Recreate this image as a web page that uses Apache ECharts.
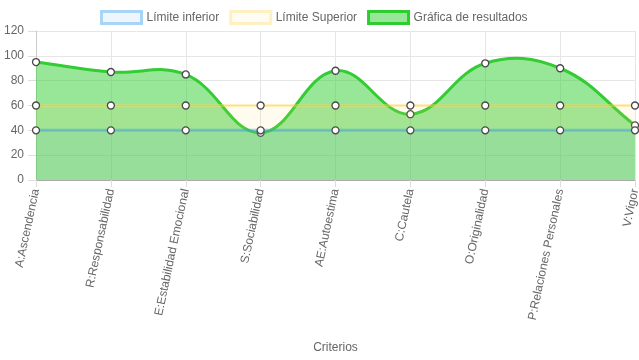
<!DOCTYPE html>
<html>
<head>
<meta charset="utf-8">
<script src="https://cdn.jsdelivr.net/npm/echarts@6/dist/echarts.min.js"></script>
<style>
html,body{margin:0;padding:0;background:#fff;}
#chart{width:639px;height:360px;}
</style>
</head>
<body>
<div id="chart"></div>
<script>
const categories = ['A:Ascendencia','R:Responsabilidad','E:Estabilidad Emocional','S:Sociabilidad','AE:Autoestima','C:Cautela','O:Originalidad','P:Relaciones Personales','V:Vigor'];
const limiteInferior = [40,40,40,40,40,40,40,40,40];
const limiteSuperior = [60,60,60,60,60,60,60,60,60];
const resultados = [95,87,85,38,88,53,94,90,44];
const seriesNames = ['Límite inferior','Límite Superior','Gráfica de resultados'];
const yTicks = {min:0, max:120, interval:20};

const font = 'Liberation Sans, Arial, Helvetica, sans-serif';
const chart = echarts.init(document.getElementById('chart'), null, {renderer:'canvas'});
const pointStyle = {color:'#ffffff', borderColor:'#4a4a4a', borderWidth:1.3};

// Cardinal spline (tension 0.4) through the data points, positioned via the axis scales
function splinePath(api, values, tension) {
  const pts = values.map((v, i) => api.coord([i, v]));
  const n = pts.length;
  const cps = pts.map((p, i) => {
    const prev = pts[i - 1] || p, next = pts[i + 1] || p;
    const d01 = Math.hypot(p[0] - prev[0], p[1] - prev[1]);
    const d12 = Math.hypot(next[0] - p[0], next[1] - p[1]);
    let s01 = d01 / (d01 + d12), s12 = d12 / (d01 + d12);
    if (!isFinite(s01)) s01 = 0; if (!isFinite(s12)) s12 = 0;
    const fa = tension * s01, fb = tension * s12;
    return {
      prev: [p[0] - fa * (next[0] - prev[0]), p[1] - fa * (next[1] - prev[1])],
      next: [p[0] + fb * (next[0] - prev[0]), p[1] + fb * (next[1] - prev[1])]
    };
  });
  let d = 'M' + pts[0][0] + ' ' + pts[0][1];
  for (let i = 0; i < n - 1; i++) {
    const c1 = cps[i].next, c2 = cps[i + 1].prev, p = pts[i + 1];
    d += ' C' + c1[0] + ' ' + c1[1] + ' ' + c2[0] + ' ' + c2[1] + ' ' + p[0] + ' ' + p[1];
  }
  return {d, pts};
}

chart.setOption({
  animation:false,
  textStyle:{fontFamily:font},
  legend:{
    top:10, left:100, padding:0, itemWidth:40, itemHeight:12, itemGap:10,
    icon:'rect',
    textStyle:{color:'#666', fontSize:12, fontFamily:font},
    data:[
      {name:seriesNames[0], itemStyle:{color:'#eef6fd', borderColor:'#a8d4f5', borderWidth:3}},
      {name:seriesNames[1], itemStyle:{color:'#fffcf3', borderColor:'#fff0c2', borderWidth:3}},
      {name:seriesNames[2], itemStyle:{color:'#98e698', borderColor:'#2ecc2e', borderWidth:3}}
    ]
  },
  grid:{left:36, right:4, top:31, bottom:180, containLabel:false, outerBoundsMode:'none'},
  xAxis:{
    type:'category', data:categories, boundaryGap:false,
    name:'Criterios', nameLocation:'middle', nameGap:162,
    nameTextStyle:{color:'#666', fontSize:12, fontFamily:font},
    axisLine:{show:true, lineStyle:{color:'#aaaaaa', width:1}},
    axisTick:{show:true, length:7, lineStyle:{color:'#dddddd'}},
    axisLabel:{rotate:78, color:'#666', fontSize:12, margin:9, fontFamily:font},
    splitLine:{show:true, lineStyle:{color:'#e6e6e6'}}
  },
  yAxis:{
    type:'value', min:yTicks.min, max:yTicks.max, interval:yTicks.interval,
    axisLine:{show:true, lineStyle:{color:'#cccccc'}},
    axisTick:{show:true, length:8, lineStyle:{color:'#dddddd'}},
    axisLabel:{color:'#666', fontSize:12, margin:12, fontFamily:font},
    splitLine:{show:true, lineStyle:{color:'#e6e6e6'}}
  },
  series:[
    {
      name:seriesNames[0], type:'line', data:limiteInferior, z:4,
      symbol:'circle', symbolSize:7, showSymbol:true,
      lineStyle:{color:'rgba(54,162,235,0.45)', width:3},
      itemStyle:pointStyle,
      areaStyle:{color:'rgba(54,162,235,0.1)', opacity:1}
    },
    {
      name:seriesNames[1], type:'line', data:limiteSuperior, z:3,
      symbol:'circle', symbolSize:7, showSymbol:true,
      lineStyle:{color:'rgba(255,215,90,0.4)', width:3},
      itemStyle:pointStyle,
      areaStyle:{color:'rgba(255,220,100,0.1)', opacity:1}
    },
    {
      name:seriesNames[2], type:'custom', z:1, coordinateSystem:'cartesian2d',
      data:[[0, 0]], encode:{x:0, y:1},
      renderItem:function(params, api){
        const sp = splinePath(api, resultados, 0.4);
        const base = api.coord([0, 0])[1];
        const last = sp.pts[sp.pts.length - 1], first = sp.pts[0];
        const area = sp.d + ' L' + last[0] + ' ' + base + ' L' + first[0] + ' ' + base + ' Z';
        return {type:'group', children:[
          {type:'path', shape:{pathData:area}, style:{fill:'rgba(50,205,50,0.5)', stroke:null}},
          {type:'path', shape:{pathData:sp.d}, style:{fill:null, stroke:'#33cc33', lineWidth:3}}
        ]};
      }
    },
    {
      name:seriesNames[2], type:'line', data:resultados, z:2,
      symbol:'circle', symbolSize:7, showSymbol:true,
      lineStyle:{width:0, opacity:0},
      itemStyle:pointStyle
    }
  ]
});
</script>
</body>
</html>
